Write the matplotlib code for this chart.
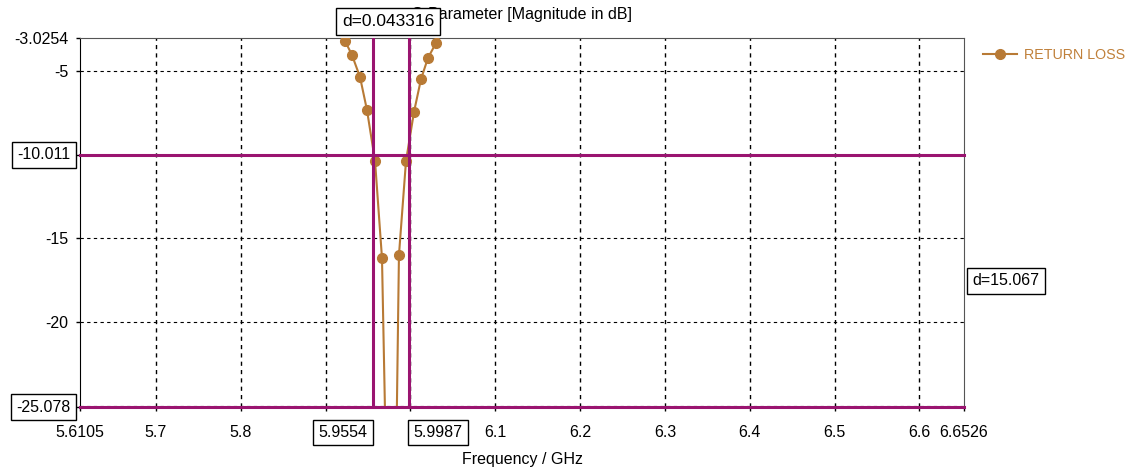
import matplotlib
matplotlib.use("Agg")
import matplotlib.pyplot as plt
import matplotlib.transforms as mtransforms

# S11 trace (GHz, dB)
freq = [5.9147, 5.9229, 5.9311, 5.9406, 5.9488, 5.9583, 5.9665, 5.9783,
        5.9865, 5.9948, 6.0042, 6.0125, 6.0207, 6.0302, 6.0384]
return_loss = [-2.4, -3.2, -4.04, -5.36, -7.33, -10.38, -16.18, -46.6,
               -16.0, -10.38, -7.45, -5.48, -4.22, -3.32, -2.5]

# marker positions
marker_freq = [5.9554, 5.9987]
marker_level = [-10.011, -25.078]
marker_freq_labels = ["5.9554", "5.9987"]
marker_level_labels = ["-10.011", "-25.078"]
delta_freq_label = "d=0.043316"
delta_level_label = "d=15.067"

x_min, x_max = 5.6105, 6.6526
y_min, y_max = -25.078, -3.0254
x_ticks = [5.6105, 5.7, 5.8, 5.9, 6.0, 6.1, 6.2, 6.3, 6.4, 6.5, 6.6, 6.6526]
x_tick_labels = ["5.6105", "5.7", "5.8", "", "", "6.1", "6.2", "6.3", "6.4",
                 "6.5", "6.6", "6.6526"]
y_ticks = [-3.0254, -5, -10.011, -15, -20, -25.078]
y_tick_labels = ["-3.0254", "-5", "", "-15", "-20", ""]
grid_x = [5.7, 5.8, 5.9, 6.0, 6.1, 6.2, 6.3, 6.4, 6.5, 6.6]
grid_y = [-5, -10, -15, -20, -25]

TRACE = "#B87A35"
MARKER = "#9A1470"

plt.rcParams["font.family"] = ["Liberation Sans", "DejaVu Sans"]
plt.rcParams["font.size"] = 11.5

fig = plt.figure(figsize=(11.37, 4.69), dpi=100)
ax = fig.add_axes([80 / 1137, 62 / 469, 884 / 1137, 369 / 469])

for gx in grid_x:
    ax.axvline(gx, color="black", lw=1, ls=(0, (3, 3)), zorder=1)
for gy in grid_y:
    ax.axhline(gy, color="black", lw=0.8, ls=(0, (3, 3)), zorder=1)

ax.plot(freq, return_loss, color=TRACE, lw=1.5, marker="o", markersize=7,
        label="RETURN LOSS", zorder=3)

for mf in marker_freq:
    ax.axvline(mf, color=MARKER, lw=2.2, zorder=4)
for ml in marker_level:
    ax.axhline(ml, color=MARKER, lw=2.2, zorder=4, clip_on=False)

ax.set_xlim(x_min, x_max)
ax.set_ylim(y_min, y_max)
ax.set_xticks(x_ticks)
ax.set_xticklabels(x_tick_labels)
ax.set_yticks(y_ticks)
ax.set_yticklabels(y_tick_labels)
ax.tick_params(axis="x", direction="out", length=3, width=1, pad=10)
ax.tick_params(axis="y", direction="out", length=3, width=1, pad=5.5)

for side in ["left", "bottom"]:
    ax.spines[side].set_color("black")
for side in ["top", "right"]:
    ax.spines[side].set_color("#555555")

ax.set_xlabel("Frequency / GHz")
ax.xaxis.set_label_coords(0.5, -0.122)
ax.text(0.5, 1 + 23 / 369, "S-Parameter [Magnitude in dB]", transform=ax.transAxes,
        ha="center", va="center", zorder=3)

box = dict(boxstyle="square,pad=0.33", fc="white", ec="black", lw=1)
xdata_yaxes = mtransforms.blended_transform_factory(ax.transData, ax.transAxes)
xaxes_ydata = mtransforms.blended_transform_factory(ax.transAxes, ax.transData)

# boxed marker values on the axes
ax.annotate(marker_freq_labels[0], xy=(marker_freq[0], 0), xycoords=xdata_yaxes,
            xytext=(-3.8, -18.5), textcoords="offset points", ha="right",
            va="center", bbox=box, annotation_clip=False, zorder=10)
ax.annotate(marker_freq_labels[1], xy=(marker_freq[1], 0), xycoords=xdata_yaxes,
            xytext=(3.2, -18.5), textcoords="offset points", ha="left",
            va="center", bbox=box, annotation_clip=False, zorder=10)
for ml, lab in zip(marker_level, marker_level_labels):
    ax.annotate(lab, xy=(0, ml), xycoords=xaxes_ydata, xytext=(-6.8, 0),
                textcoords="offset points", ha="right", va="center", bbox=box,
                annotation_clip=False, zorder=10)

# delta readouts
ax.annotate(delta_freq_label, xy=(sum(marker_freq) / 2, 1), xycoords=xdata_yaxes,
            xytext=(-2, 12), textcoords="offset points", ha="center", va="center",
            fontsize=12.5, bbox=dict(boxstyle="square,pad=0.35", fc="white",
                                     ec="black", lw=1),
            annotation_clip=False, zorder=10)
ax.annotate(delta_level_label, xy=(1, sum(marker_level) / 2), xycoords=xaxes_ydata,
            xytext=(6, 0), textcoords="offset points", ha="left", va="center",
            bbox=box, annotation_clip=False, zorder=10)

leg = fig.legend(loc="center left", bbox_to_anchor=(983 / 1137, 1 - 55 / 469),
                 frameon=False, borderpad=0, borderaxespad=0, handlelength=2.4,
                 handletextpad=0.5, labelcolor="#C0803A",
                 prop={"size": 10.3})

fig.savefig("out.png", dpi=100)
